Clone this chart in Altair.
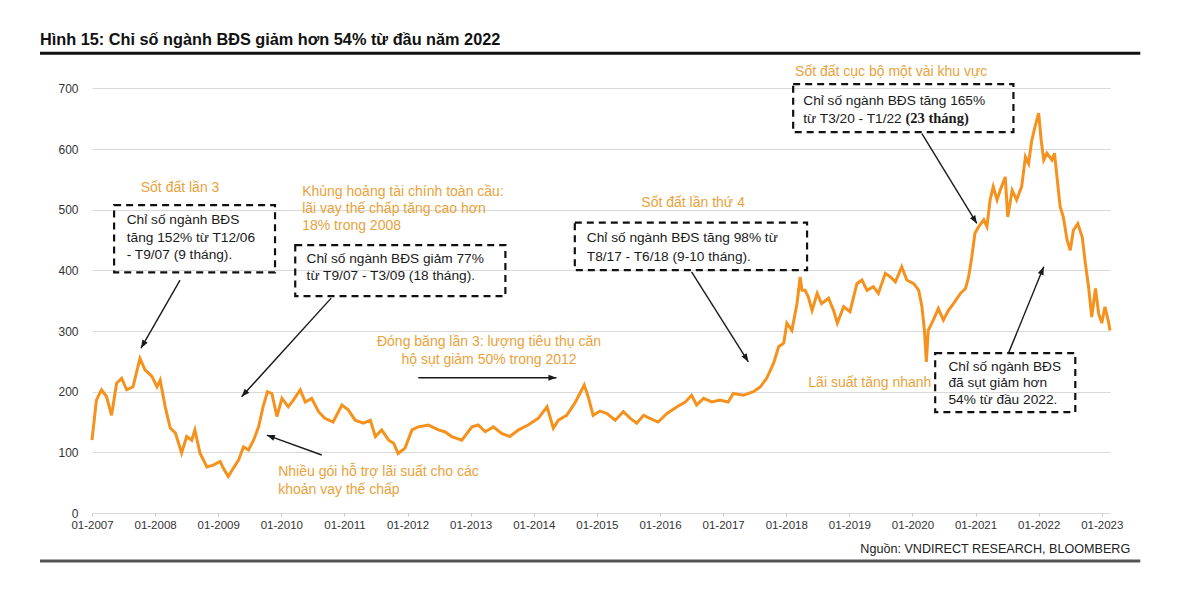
import math
import altair as alt
import pandas as pd

# ---------------- data ----------------
years = [
    2007.00, 2007.07, 2007.15, 2007.23, 2007.31, 2007.39, 2007.47, 2007.55, 2007.65, 2007.76,
    2007.84, 2007.95, 2008.03, 2008.08, 2008.16, 2008.24, 2008.32, 2008.42, 2008.50, 2008.58,
    2008.63, 2008.71, 2008.82, 2008.92, 2009.03, 2009.08, 2009.16, 2009.24, 2009.32, 2009.40,
    2009.48, 2009.56, 2009.64, 2009.71, 2009.78, 2009.85, 2009.93, 2010.01, 2010.11, 2010.19,
    2010.30, 2010.38, 2010.48, 2010.59, 2010.69, 2010.82, 2010.96, 2011.06, 2011.17, 2011.30,
    2011.41, 2011.49, 2011.59, 2011.70, 2011.78, 2011.85, 2011.96, 2012.07, 2012.17, 2012.33,
    2012.49, 2012.59, 2012.70, 2012.86, 2013.02, 2013.12, 2013.23, 2013.36, 2013.49, 2013.62,
    2013.76, 2013.91, 2014.07, 2014.21, 2014.31, 2014.39, 2014.52, 2014.65, 2014.73, 2014.80,
    2014.87, 2014.94, 2015.05, 2015.16, 2015.29, 2015.42, 2015.53, 2015.63, 2015.74, 2015.84,
    2015.97, 2016.11, 2016.27, 2016.40, 2016.50, 2016.58, 2016.69, 2016.82, 2016.95, 2017.08,
    2017.16, 2017.32, 2017.48, 2017.59, 2017.69, 2017.80, 2017.88, 2017.96, 2018.01, 2018.09,
    2018.17, 2018.22, 2018.25, 2018.30, 2018.35, 2018.41, 2018.49, 2018.56, 2018.67, 2018.75,
    2018.81, 2018.91, 2019.01, 2019.12, 2019.20, 2019.28, 2019.38, 2019.46, 2019.57, 2019.65,
    2019.73, 2019.83, 2019.91, 2020.02, 2020.10, 2020.15, 2020.19, 2020.22, 2020.25, 2020.33,
    2020.41, 2020.49, 2020.57, 2020.65, 2020.76, 2020.84, 2020.89, 2020.94, 2020.99, 2021.05,
    2021.13, 2021.18, 2021.23, 2021.28, 2021.34, 2021.39, 2021.47, 2021.51, 2021.58, 2021.65,
    2021.73, 2021.79, 2021.84, 2021.89, 2021.94, 2022.00, 2022.04, 2022.08, 2022.13, 2022.21,
    2022.25, 2022.29, 2022.34, 2022.39, 2022.45, 2022.50, 2022.55, 2022.62, 2022.69, 2022.74,
    2022.79, 2022.84, 2022.90, 2022.95, 2023.00, 2023.05, 2023.11, 2023.13,
]
index_values = [
    120, 186, 203, 192, 161, 214, 222, 203, 208, 255,
    236, 225, 208, 219, 175, 140, 132, 99, 126, 120,
    137, 99, 76, 79, 85, 74, 60, 74, 87, 109,
    104, 120, 142, 175, 200, 197, 159, 189, 175, 186,
    203, 183, 189, 167, 156, 150, 178, 170, 153, 148,
    153, 126, 137, 120, 115, 98, 107, 137, 142, 145,
    137, 134, 126, 120, 142, 145, 134, 142, 131, 126,
    137, 145, 156, 175, 140, 153, 161, 181, 197, 211,
    189, 161, 168, 164, 153, 167, 156, 148, 161, 156,
    150, 164, 175, 183, 194, 178, 189, 183, 186, 183,
    197, 194, 200, 208, 222, 247, 274, 280, 313, 301,
    345, 389, 367, 367, 356, 334, 362, 345, 354, 334,
    313, 340, 332, 378, 384, 367, 373, 362, 395, 389,
    381, 406, 384, 378, 367, 340, 301, 249, 301, 318,
    337, 318, 334, 345, 362, 370, 389, 422, 461, 472,
    483, 472, 516, 538, 516, 532, 554, 488, 532, 516,
    538, 587, 576, 614, 636, 659, 614, 582, 593, 582,
    593, 554, 505, 488, 450, 433, 466, 477, 455, 411,
    373, 323, 370, 329, 313, 340, 313, 301,
]
tick_years = list(range(2007, 2024))
y_ticks = [0, 100, 200, 300, 400, 500, 600, 700]

title_text = "Hình 15: Chỉ số ngành BĐS giảm hơn 54% từ đầu năm 2022"
source_text = "Nguồn: VNDIRECT RESEARCH, BLOOMBERG"

# orange notes, centred
note_c_text = ["Sốt đất lần 3", "Sốt đất lần thứ 4",
               "Đóng băng lần 3: lượng tiêu thụ căn", "hộ sụt giảm 50% trong 2012"]
note_c_x = [2008.395, 2016.525, 2013.29, 2013.29]
note_c_y = [535.4, 511.5, 282.2, 252.1]

# orange notes, left aligned
note_l_text = ["Khủng hoảng tài chính toàn cầu:", "lãi vay thế chấp tăng cao hơn", "18% trong 2008",
               "Sốt đất cục bộ một vài khu vực", "Lãi suất tăng nhanh",
               "Nhiều gói hỗ trợ lãi suất cho các", "khoản vay thế chấp"]
note_l_x = [2010.33, 2010.33, 2010.33, 2018.14, 2018.35, 2009.95, 2009.95]
note_l_y = [529.3, 501.6, 473.3, 727.0, 214.2, 68.0, 37.9]

# black text inside the dashed boxes
box_text = ["Chỉ số ngành BĐS", "tăng 152% từ T12/06", "- T9/07 (9 tháng).",
            "Chỉ số ngành BĐS giảm 77%", "từ T9/07 - T3/09 (18 tháng).",
            "Chỉ số ngành BĐS tăng 98% từ", "T8/17 - T6/18 (9-10 tháng).",
            "Chỉ số ngành BĐS tăng 165%", "từ T3/20 - T1/22",
            "Chỉ số ngành BĐS", "đã sụt giảm hơn", "54% từ đầu 2022."]
box_text_x = [2007.55, 2007.55, 2007.55, 2010.40, 2010.40, 2014.84, 2014.84,
              2018.27, 2018.27, 2020.57, 2020.57, 2020.57]
box_text_y = [482.7, 453.9, 425.0, 419.3, 390.4, 452.6, 422.2,
              679.2, 650.2, 241.0, 213.7, 186.2]
bold_text = ["(23 tháng)"]
bold_x = [2019.89]
bold_y = [650.2]

# dashed boxes
box_x1 = [2007.35, 2010.22, 2014.65, 2018.11, 2020.36]
box_x2 = [2009.90, 2013.55, 2018.33, 2021.60, 2022.58]
box_y1 = [507.4, 441.5, 478.6, 706.8, 263.6]
box_y2 = [396.5, 357.5, 400.3, 627.7, 166.4]

# arrows (start -> head)
arr_x1 = [2008.395, 2010.79, 2012.17, 2010.64, 2016.50, 2020.15, 2021.52]
arr_y1 = [383.9, 354.2, 222.9, 95.6, 397.5, 625.5, 263.1]
arr_x2 = [2007.777, 2009.37, 2014.36, 2009.77, 2017.40, 2021.02, 2022.08]
arr_y2 = [271.8, 191.6, 222.9, 128.5, 249.3, 477.3, 405.8]

# ---------------- layout ----------------
W, H = 1018, 455
X_DOM = [2007.0, 2023.13]
Y_DOM = [0, 750]
LINE_COLOR = "#F5921E"
NOTE_COLOR = "#E9A23B"
FONT = "Liberation Sans, Arial, sans-serif"

xs = alt.Scale(domain=X_DOM, nice=False, zero=False)
ys = alt.Scale(domain=Y_DOM, nice=False, zero=False)

X_AXIS = alt.Axis(values=tick_years, labelExpr="'01-' + datum.value", grid=False,
                  domain=False, ticks=True, tickSize=3, tickColor="#c8c8c8",
                  labelPadding=3, labelFont=FONT, labelFontSize=11.5,
                  labelColor="#333333", labelFlush=False, title=None)
Y_AXIS = alt.Axis(values=y_ticks, grid=True, gridColor="#d9d9d9", gridWidth=1.2,
                  domain=False, ticks=False, labelPadding=14, labelFont=FONT,
                  labelFontSize=12, labelColor="#333333", title=None)


def X(field):
    return alt.X(field, scale=xs, axis=X_AXIS, title=None)


def Y(field):
    return alt.Y(field, scale=ys, axis=Y_AXIS, title=None)


df = pd.DataFrame({"yr": years, "val": index_values})

line = alt.Chart(df).mark_line(color=LINE_COLOR, strokeWidth=3, clip=False).encode(
    x=X("yr:Q"), y=Y("val:Q"),
)


def txt_layer(xv, yv, tv, **kw):
    d = pd.DataFrame({"x": xv, "y": yv, "t": tv})
    return alt.Chart(d).mark_text(baseline="middle", clip=False, **kw).encode(
        x=X("x:Q"), y=Y("y:Q"), text="t:N",
    )


notes_c = txt_layer(note_c_x, note_c_y, note_c_text, align="center", font=FONT,
                    fontSize=14, color=NOTE_COLOR)
notes_l = txt_layer(note_l_x, note_l_y, note_l_text, align="left", font=FONT,
                    fontSize=14, color=NOTE_COLOR)
boxes_t = txt_layer(box_text_x, box_text_y, box_text, align="left", font=FONT,
                    fontSize=13.7, color="#1a1a1a")
bold_t = txt_layer(bold_x, bold_y, bold_text, align="left", font="Liberation Serif, serif",
                   fontSize=14.5, fontWeight="bold", color="#1a1a1a")
title_t = txt_layer([2006.176], [779.0], [title_text], align="left", font=FONT,
                    fontSize=16.3, fontWeight="bold", color="#111111")
source_t = txt_layer([2023.45], [-59.3], [source_text], align="right", font=FONT,
                     fontSize=12.6, color="#222222")

boxes = alt.Chart(pd.DataFrame({"x1": box_x1, "x2": box_x2, "y1": box_y1, "y2": box_y2})).mark_rect(
    fillOpacity=0, stroke="#111111", strokeWidth=2.2, strokeDash=[7, 5], clip=False
).encode(
    x=X("x1:Q"), x2="x2:Q", y=Y("y1:Q"), y2="y2:Q",
)

# arrows
px_per_x = W / (X_DOM[1] - X_DOM[0])
px_per_y = H / (Y_DOM[1] - Y_DOM[0])
angles = []
for a, b, c, d in zip(arr_x1, arr_y1, arr_x2, arr_y2):
    dx = (c - a) * px_per_x
    dy = -(d - b) * px_per_y
    angles.append(math.degrees(math.atan2(dx, -dy)) % 360)
arr_df = pd.DataFrame({"x1": arr_x1, "y1": arr_y1, "x2": arr_x2, "y2": arr_y2, "ang": angles})

arrow_lines = alt.Chart(arr_df).mark_rule(color="#1a1a1a", strokeWidth=1.4, clip=False).encode(
    x=X("x1:Q"), x2="x2:Q", y=Y("y1:Q"), y2="y2:Q",
)
arrow_heads = alt.Chart(arr_df).mark_point(
    shape="M0,0L-0.65,1.7L0.65,1.7Z", filled=True, fill="#1a1a1a", strokeWidth=0,
    size=90, opacity=1, clip=False
).encode(
    x=X("x2:Q"), y=Y("y2:Q"),
    angle=alt.Angle("ang:Q", scale=None),
)

# decorative horizontal bars (title underline and footer line)
bars = alt.Chart(pd.DataFrame({"x1": [2006.176, 2006.176], "x2": [2023.61, 2023.61],
                               "y": [757.8, -79.1], "c": ["#111111", "#555555"]})).mark_rule(
    strokeWidth=3, clip=False
).encode(
    x=X("x1:Q"), x2="x2:Q", y=Y("y:Q"),
    color=alt.Color("c:N", scale=None),
)

chart = alt.layer(
    line, boxes, arrow_lines, arrow_heads, notes_c, notes_l, boxes_t, bold_t, title_t, source_t, bars
).properties(
    width=W, height=H,
    autosize=alt.AutoSizeParams(type="none"),
    padding={"left": 84, "top": 50, "right": 70, "bottom": 70},
    background="white",
).configure_view(stroke=None)

chart.save("out.html", embed_options={"renderer": "svg", "actions": False})
